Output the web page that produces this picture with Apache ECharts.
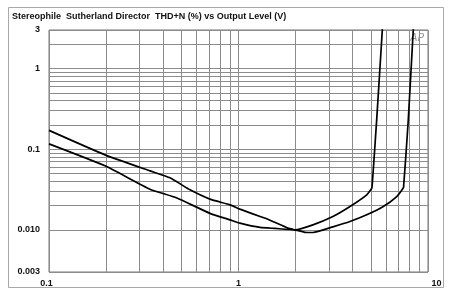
<!DOCTYPE html>
<html><head><meta charset="utf-8">
<script src="https://cdn.jsdelivr.net/npm/echarts@6/dist/echarts.min.js"></script>
<style>html,body{margin:0;padding:0;background:#fff}#c{width:450px;height:296px}</style>
</head><body><div id="c"></div>
<script>
const titleText = 'Stereophile  Sutherland Director  THD+N (%) vs Output Level (V)';
const xTicks = [0.1, 1, 10];
const xTickLabels = ['0.1', '1', '10'];
const yTicks = [0.003, 0.01, 0.1, 1, 3];
const yTickLabels = ['0.003', '0.010', '0.1', '1', '3'];
const xMinorGrid = [0.2, 0.3, 0.4, 0.5, 0.6, 0.7, 0.8, 0.9, 2, 3, 4, 5, 6, 7, 8, 9];
const yMinorGrid = [0.004, 0.005, 0.006, 0.007, 0.008, 0.009, 0.02, 0.03, 0.04, 0.05, 0.06, 0.07, 0.08, 0.09, 0.2, 0.3, 0.4, 0.5, 0.6, 0.7, 0.8, 0.9, 2];

const curveAVolts = [0.1, 0.1975, 0.341, 0.435, 0.555, 0.707, 0.902, 1.018, 1.30, 1.43, 1.824, 1.987, 2.244, 2.47, 3.15, 3.875, 4.75, 5.81, 6.84, 7.29, 7.43, 7.87, 8.36, 8.54];
const curveATHD = [0.171, 0.085, 0.0538, 0.0441, 0.0313, 0.0240, 0.0204, 0.01805, 0.01462, 0.0135, 0.0105, 0.0100, 0.00931, 0.00926, 0.01089, 0.01267, 0.01534, 0.01944, 0.02587, 0.0313, 0.0336, 0.2307, 3.0, 5.3];
const curveBVolts = [0.1, 0.1975, 0.341, 0.47, 0.707, 0.902, 1.018, 1.30, 1.558, 1.987, 2.47, 3.15, 3.875, 4.75, 5.05, 5.10, 5.36, 5.74, 5.82];
const curveBTHD = [0.1163, 0.0621, 0.0319, 0.0250, 0.0160, 0.0133, 0.0121, 0.0107, 0.0104, 0.0100, 0.01153, 0.01462, 0.01944, 0.02715, 0.0329, 0.0417, 0.2307, 3.0, 5.3];

function pick(ticks, labels, v) {
  let best = 0, bd = Infinity;
  ticks.forEach((t, i) => { const d = Math.abs(Math.log10(t) - Math.log10(v)); if (d < bd) { bd = d; best = i; } });
  return bd < 0.02 ? labels[best] : '';
}
const zip = (a, b) => a.map((v, i) => [v, b[i]]);
const gridColor = '#8c8c8c';
const fontFam = '"Liberation Sans", Arial, sans-serif';

const chart = echarts.init(document.getElementById('c'), null, {renderer: 'canvas'});
chart.setOption({
  animation: false,
  backgroundColor: '#fff',
  title: {
    text: titleText, left: 12, top: 12, padding: 0,
    textStyle: {fontFamily: fontFam, fontSize: 9, fontWeight: 'bold', color: '#111'}
  },
  graphic: [
    {type: 'rect', shape: {x: 8.5, y: 7.5, width: 435, height: 280}, style: {fill: 'none', stroke: '#a8a8a8', lineWidth: 1}, z: -1},
    {type: 'text', left: 410, top: 33, style: {text: 'AP', font: 'italic 11px "DejaVu Sans", sans-serif', fill: '#999'}}
  ],
  grid: {left: 49, top: 30, right: 22, bottom: 24, show: true, borderColor: '#777', borderWidth: 1, backgroundColor: '#fff'},
  xAxis: {
    type: 'log', logBase: 10, min: 0.1, max: 10,
    axisLine: {show: false}, axisTick: {show: false},
    splitLine: {show: true, lineStyle: {color: gridColor, width: 1}},
    axisLabel: {
      margin: 7, color: '#111', fontFamily: fontFam, fontSize: 9, fontWeight: 'bold',
      showMinLabel: true, showMaxLabel: true,
      formatter: v => {
        const s = pick(xTicks, xTickLabels, v);
        if (s === xTickLabels[0]) return '{a|' + s + '}';
        if (s === xTickLabels[xTickLabels.length - 1]) return '{b|' + s + '}';
        return s;
      },
      rich: {
        a: {fontFamily: fontFam, fontSize: 9, fontWeight: 'bold', color: '#111', padding: [0, 5, 0, 0]},
        b: {fontFamily: fontFam, fontSize: 9, fontWeight: 'bold', color: '#111', padding: [0, 0, 0, 17]}
      }
    }
  },
  yAxis: {
    type: 'log', logBase: 10, min: 0.003, max: 3,
    axisLine: {show: false}, axisTick: {show: false},
    splitLine: {show: true, lineStyle: {color: gridColor, width: 1}},
    axisLabel: {
      margin: 9, color: '#111', fontFamily: fontFam, fontSize: 9, fontWeight: 'bold',
      showMinLabel: true, showMaxLabel: true,
      formatter: v => pick(yTicks, yTickLabels, v)
    }
  },
  series: [
    {
      type: 'line', data: zip(curveAVolts, curveATHD), showSymbol: false, smooth: 0.15,
      lineStyle: {color: '#000', width: 1.7}, clip: true, z: 5,
      markLine: {
        silent: true, symbol: 'none', label: {show: false}, animation: false,
        lineStyle: {color: gridColor, width: 1, type: 'solid'},
        data: xMinorGrid.map(v => ({xAxis: v})).concat(yMinorGrid.map(v => ({yAxis: v})))
      }
    },
    {
      type: 'line', data: zip(curveBVolts, curveBTHD), showSymbol: false, smooth: 0.15,
      lineStyle: {color: '#000', width: 1.7}, clip: true, z: 5
    }
  ]
});
</script></body></html>
